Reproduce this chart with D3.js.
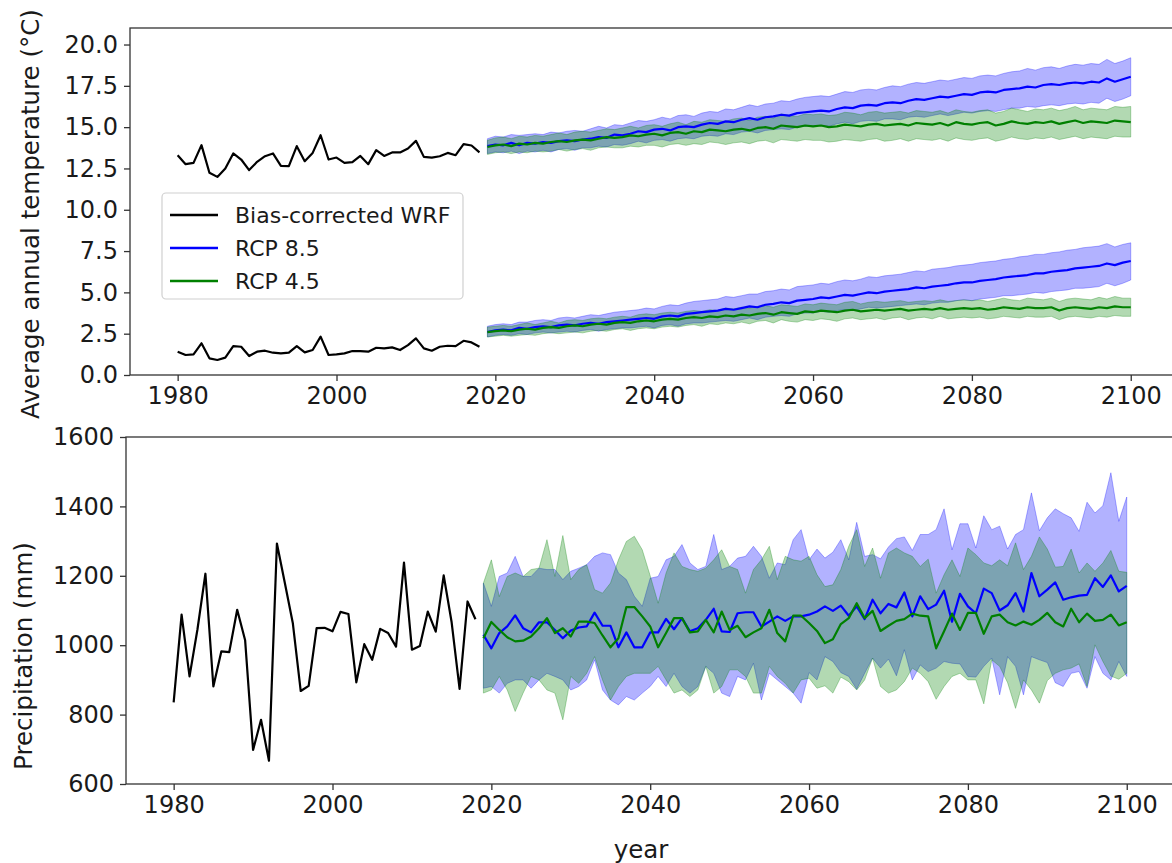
<!DOCTYPE html>
<html><head><meta charset="utf-8">
<script src="https://cdn.jsdelivr.net/npm/d3@7"></script>
<style>
body{margin:0;background:#fff;}
svg{display:block;font-family:"DejaVu Sans",sans-serif;}
</style></head>
<body><svg id="c" width="1172" height="863"></svg>
<script>
// ---------- DATA ----------
const histStart = 1980;   // 1980-2018
const projStart = 2019;   // 2019-2100
const xTicks = [1980, 2000, 2020, 2040, 2060, 2080, 2100];
const tempTicks = [0, 2.5, 5, 7.5, 10, 12.5, 15, 17.5, 20];
const precTicks = [600, 800, 1000, 1200, 1400, 1600];
const legendLabels = ["Bias-corrected WRF", "RCP 8.5", "RCP 4.5"];

// Temperature, site A (upper group)
const tempHistA = [13.30,12.76,12.84,13.91,12.24,11.99,12.50,13.41,13.04,12.40,12.90,13.24,13.41,12.66,12.64,13.85,12.94,13.44,14.51,13.04,13.16,12.84,12.88,13.26,12.76,13.61,13.26,13.47,13.47,13.71,14.17,13.20,13.16,13.24,13.44,13.30,13.97,13.89,13.47];
const tempHistB = [1.41,1.21,1.25,1.92,1.01,0.91,1.05,1.75,1.71,1.15,1.41,1.47,1.35,1.31,1.35,1.75,1.37,1.51,2.32,1.21,1.25,1.31,1.45,1.45,1.41,1.65,1.61,1.67,1.51,1.81,2.22,1.61,1.47,1.71,1.77,1.75,2.07,1.97,1.71];

const t85A_mean = [13.85,13.95,13.90,14.05,13.90,14.05,14.00,14.10,14.05,14.15, 14.20,14.15,14.25,14.30,14.40,14.35,14.55,14.50,14.60,14.75, 14.70,14.85,14.90,14.80,15.00,15.05,15.00,15.15,15.25,15.20, 15.35,15.30,15.45,15.55,15.45,15.60,15.65,15.75,15.70,15.85, 15.90,15.95,16.00,15.95,16.10,16.20,16.15,16.30,16.35,16.30, 16.45,16.50,16.45,16.60,16.70,16.65,16.75,16.85,16.80,16.90, 17.00,16.95,17.10,17.15,17.10,17.25,17.30,17.35,17.45,17.40, 17.55,17.60,17.55,17.65,17.70,17.65,17.75,17.70,17.95,17.75, 17.90,18.05];
const t85A_hi = [14.30,14.45,14.40,14.55,14.50,14.55,14.60,14.55,14.70,14.65, 14.75,14.80,14.75,14.90,15.05,14.95,15.15,15.10,15.25,15.40, 15.35,15.45,15.60,15.50,15.70,15.75,15.65,15.85,15.95,15.90, 16.10,16.05,16.20,16.35,16.25,16.40,16.45,16.60,16.55,16.70, 16.80,16.85,16.90,16.85,17.00,17.15,17.10,17.25,17.30,17.25, 17.40,17.50,17.45,17.60,17.70,17.65,17.75,17.85,17.80,17.90, 18.00,17.95,18.10,18.15,18.10,18.25,18.35,18.40,18.55,18.45, 18.60,18.65,18.55,18.70,18.80,18.75,18.85,18.80,19.10,18.85, 19.00,19.20];
const t85A_lo = [13.40,13.50,13.45,13.55,13.40,13.55,13.50,13.60,13.50,13.65, 13.70,13.60,13.75,13.75,13.85,13.80,13.95,13.90,14.00,14.15, 14.05,14.20,14.25,14.15,14.30,14.35,14.30,14.45,14.50,14.45, 14.60,14.55,14.70,14.75,14.65,14.80,14.85,14.90,14.85,15.00, 15.05,15.05,15.10,15.05,15.20,15.30,15.20,15.35,15.40,15.35, 15.50,15.50,15.45,15.60,15.65,15.60,15.70,15.80,15.70,15.80, 15.90,15.85,15.95,16.00,15.95,16.05,16.15,16.15,16.25,16.20, 16.30,16.35,16.30,16.40,16.45,16.40,16.50,16.45,16.75,16.55, 16.70,16.90];
const t45A_mean = [13.80,13.90,13.95,13.85,14.00,13.95,14.05,14.00,14.10,14.15, 14.10,14.20,14.25,14.20,14.30,14.40,14.35,14.40,14.50,14.45, 14.55,14.60,14.50,14.65,14.70,14.60,14.75,14.70,14.85,14.80, 14.75,14.85,14.90,14.80,14.95,15.00,14.90,15.10,15.05,15.00, 15.10,15.05,15.10,15.00,15.05,15.15,15.10,15.05,15.15,15.20, 15.10,15.15,15.20,15.10,15.25,15.20,15.15,15.25,15.10,15.30, 15.20,15.15,15.25,15.30,15.10,15.20,15.35,15.25,15.20,15.30, 15.25,15.35,15.20,15.30,15.40,15.25,15.35,15.30,15.25,15.40, 15.35,15.30];
const t45A_hi = [14.20,14.35,14.40,14.30,14.45,14.40,14.50,14.45,14.55,14.65, 14.55,14.70,14.75,14.70,14.80,14.90,14.85,14.95,15.05,14.95, 15.10,15.15,15.05,15.20,15.30,15.15,15.35,15.30,15.45,15.40, 15.35,15.50,15.55,15.40,15.60,15.65,15.55,15.80,15.70,15.65, 15.80,15.75,15.80,15.70,15.75,15.90,15.85,15.75,15.90,15.95, 15.85,15.90,15.95,15.85,16.00,15.95,15.90,16.00,15.85,16.05, 15.95,15.90,16.00,16.05,15.85,15.95,16.15,16.05,15.95,16.10, 16.05,16.15,16.00,16.10,16.25,16.05,16.15,16.10,16.05,16.25, 16.20,16.25];
const t45A_lo = [13.35,13.45,13.50,13.40,13.50,13.45,13.55,13.50,13.55,13.65, 13.55,13.65,13.70,13.60,13.75,13.80,13.75,13.75,13.85,13.80, 13.90,13.90,13.80,13.95,14.00,13.90,14.00,13.95,14.10,14.05, 13.95,14.05,14.10,14.00,14.15,14.20,14.05,14.25,14.20,14.15, 14.25,14.20,14.20,14.10,14.15,14.25,14.20,14.15,14.25,14.30, 14.15,14.20,14.30,14.15,14.30,14.25,14.20,14.30,14.15,14.35, 14.25,14.20,14.30,14.35,14.15,14.25,14.40,14.30,14.25,14.35, 14.30,14.40,14.25,14.35,14.45,14.30,14.40,14.35,14.30,14.45, 14.40,14.40];

const t85B_mean = [2.60,2.70,2.75,2.70,2.85,2.80,2.90,2.95,2.90,3.00, 3.05,3.00,3.10,3.15,3.10,3.20,3.25,3.30,3.35,3.40, 3.45,3.40,3.55,3.60,3.55,3.70,3.75,3.80,3.85,3.90, 4.00,3.95,4.05,4.15,4.10,4.25,4.30,4.40,4.35,4.50, 4.55,4.60,4.70,4.65,4.75,4.85,4.80,4.90,5.00,4.95, 5.05,5.10,5.15,5.20,5.30,5.25,5.35,5.40,5.45,5.55, 5.60,5.60,5.70,5.75,5.80,5.90,5.95,6.00,6.05,6.15, 6.15,6.25,6.30,6.35,6.45,6.50,6.55,6.60,6.75,6.65, 6.80,6.90];
const t85B_hi = [2.95,3.05,3.10,3.05,3.20,3.20,3.30,3.35,3.30,3.45, 3.50,3.45,3.55,3.65,3.60,3.70,3.80,3.85,3.90,3.95, 4.05,4.00,4.15,4.25,4.20,4.35,4.45,4.50,4.55,4.60, 4.75,4.70,4.80,4.90,4.90,5.05,5.10,5.20,5.15,5.35, 5.40,5.45,5.55,5.50,5.65,5.75,5.70,5.80,5.95,5.90, 6.00,6.05,6.10,6.20,6.30,6.25,6.40,6.45,6.50,6.60, 6.65,6.70,6.80,6.85,6.90,7.00,7.05,7.15,7.20,7.30, 7.30,7.40,7.45,7.55,7.60,7.70,7.75,7.80,7.95,7.75, 7.90,8.00];
const t85B_lo = [2.30,2.40,2.45,2.40,2.50,2.45,2.55,2.60,2.55,2.60, 2.65,2.60,2.70,2.75,2.65,2.75,2.80,2.85,2.85,2.90, 2.95,2.85,3.00,3.05,2.95,3.10,3.15,3.15,3.20,3.25, 3.30,3.25,3.35,3.45,3.35,3.50,3.55,3.60,3.55,3.70, 3.75,3.75,3.85,3.80,3.90,3.95,3.90,4.00,4.10,4.05, 4.10,4.15,4.20,4.25,4.30,4.25,4.35,4.40,4.40,4.50, 4.55,4.50,4.60,4.65,4.70,4.80,4.80,4.85,4.90,5.00, 4.95,5.05,5.10,5.15,5.25,5.25,5.30,5.35,5.55,5.40, 5.55,5.75];
const t45B_mean = [2.60,2.65,2.70,2.65,2.75,2.80,2.75,2.85,2.90,2.85, 2.95,3.00,2.95,3.05,3.10,3.05,3.15,3.20,3.15,3.25, 3.30,3.25,3.35,3.40,3.35,3.45,3.50,3.45,3.55,3.50, 3.60,3.55,3.65,3.60,3.70,3.75,3.65,3.80,3.75,3.70, 3.85,3.80,3.90,3.85,3.80,3.90,3.95,3.85,3.90,3.95, 3.90,3.95,4.00,3.90,3.95,4.00,3.95,4.05,3.95,4.00, 4.05,4.00,4.05,3.95,4.00,4.10,4.05,4.00,4.10,4.05, 4.05,4.10,3.90,4.05,4.10,4.05,4.00,4.10,4.05,4.15, 4.10,4.10];
const t45B_hi = [2.90,2.95,3.00,2.95,3.05,3.15,3.05,3.15,3.25,3.15, 3.30,3.35,3.30,3.40,3.45,3.40,3.50,3.55,3.50,3.65, 3.70,3.65,3.75,3.80,3.75,3.85,3.90,3.85,3.95,3.90, 4.05,4.00,4.10,4.05,4.15,4.20,4.10,4.25,4.20,4.15, 4.30,4.25,4.35,4.30,4.25,4.40,4.45,4.30,4.40,4.45, 4.40,4.45,4.50,4.40,4.45,4.50,4.45,4.55,4.45,4.50, 4.55,4.50,4.55,4.45,4.55,4.65,4.55,4.50,4.65,4.60, 4.55,4.65,4.45,4.60,4.65,4.60,4.55,4.70,4.60,4.75, 4.65,4.65];
const t45B_lo = [2.30,2.35,2.40,2.35,2.40,2.45,2.40,2.50,2.55,2.50, 2.55,2.60,2.55,2.65,2.70,2.65,2.75,2.80,2.70,2.80, 2.85,2.80,2.90,2.95,2.90,3.00,3.05,2.95,3.10,3.05, 3.15,3.10,3.20,3.10,3.25,3.30,3.15,3.35,3.25,3.20, 3.35,3.30,3.40,3.35,3.25,3.40,3.45,3.35,3.40,3.45, 3.35,3.45,3.50,3.35,3.45,3.50,3.40,3.55,3.40,3.45, 3.50,3.45,3.50,3.40,3.45,3.55,3.50,3.45,3.55,3.50, 3.50,3.55,3.35,3.50,3.55,3.50,3.45,3.55,3.50,3.60, 3.55,3.55];

// Precipitation
const precHist = [835,1088,910,1046,1206,881,982,980,1102,1014,698,785,667,1293,1179,1064,868,883,1049,1050,1040,1096,1090,893,1003,958,1047,1035,996,1238,987,998,1097,1039,1201,1066,874,1126,1075];
const p85_mean = [1030,991,1035,1054,1086,1049,1037,1066,1066,1044, 1020,1042,1051,1054,1094,1056,1056,994,1037,994, 994,1037,1037,1076,1046,1078,1040,1049,1073,1105, 1040,1038,1092,1095,1095,1054,1068,1083,1070,1083, 1083,1088,1097,1112,1099,1114,1085,1112,1075,1131, 1092,1119,1109,1152,1083,1141,1104,1117,1157,1068, 1148,1112,1092,1163,1150,1100,1115,1150,1097,1208, 1141,1160,1181,1131,1138,1143,1145,1193,1168,1201, 1155,1171];
const p85_hi = [1179,1112,1198,1208,1256,1198,1198,1222,1218,1218, 1189,1213,1222,1232,1256,1266,1261,1208,1189,1141, 1112,1193,1198,1246,1256,1290,1237,1218,1227,1319, 1218,1227,1251,1256,1285,1256,1193,1237,1232,1304, 1333,1246,1277,1251,1268,1304,1246,1354,1256,1261, 1249,1283,1307,1312,1273,1319,1319,1333,1393,1275, 1350,1350,1280,1373,1333,1343,1277,1319,1333,1439, 1330,1367,1393,1379,1367,1328,1412,1381,1402,1497, 1357,1427];
const p85_lo = [876,881,862,890,900,900,876,900,919,910, 900,871,881,900,958,871,842,828,852,842, 862,881,910,881,919,881,862,881,939,919, 862,852,910,900,948,842,919,900,881,862, 833,921,900,967,953,921,910,873,919,963, 934,960,912,987,900,943,924,934,953,948, 946,910,908,939,963,857,967,939,857,967, 958,950,892,881,919,924,876,967,919,900, 953,910];
const p45_mean = [1020,1067,1044,1023,1011,1013,1025,1049,1078,1035, 1049,1025,1068,1068,1064,1028,994,1020,1110,1110, 1083,1054,994,1035,1078,1078,1037,1040,1073,1037, 1097,1044,1056,1023,1037,1049,1102,1035,1011,1085, 1085,1064,1041,1006,1017,1061,1078,1121,1078,1099, 1041,1056,1070,1075,1091,1085,1083,991,1040,1091, 1044,1093,1093,1033,1083,1088,1066,1057,1068,1059, 1073,1093,1066,1054,1105,1066,1091,1070,1073,1088, 1057,1066];
const p45_hi = [1179,1246,1140,1198,1208,1198,1218,1222,1304,1198, 1316,1189,1218,1232,1160,1150,1179,1246,1299,1314, 1275,1200,1121,1208,1266,1227,1218,1213,1222,1246, 1275,1227,1218,1150,1218,1246,1285,1189,1256,1246, 1242,1256,1203,1169,1174,1218,1285,1333,1227,1280, 1193,1266,1280,1266,1256,1227,1248,1150,1203,1246, 1198,1280,1261,1237,1229,1246,1229,1295,1218,1256, 1312,1277,1225,1227,1277,1208,1237,1213,1237,1273, 1213,1210];
const p45_lo = [862,871,910,871,809,862,910,900,871,862, 785,910,890,919,967,900,842,881,910,919, 919,919,939,900,862,871,852,871,939,862, 881,929,929,910,862,862,939,910,890,862, 900,905,876,883,862,908,895,871,900,963, 881,862,871,895,934,919,895,844,881,910, 919,900,900,831,958,939,892,818,900,871, 833,898,919,929,934,946,881,1001,953,911, 902,919];

// ---------- DRAW ----------
const svg = d3.select("#c");
const FONT = 24;
const LABEL_FONT = 24.5;
const histYears = tempHistA.map((_, i) => histStart + i);
const projYears = t85A_mean.map((_, i) => projStart + i);
const BLUE = "#0000ff", GREEN = "#008000";

function panel(opt) {
  const x = d3.scaleLinear().domain([1974, 2106]).range([opt.left, opt.left + 1048.4]);
  const y = d3.scaleLinear().domain(opt.ydom).range([opt.bottom, opt.top]);
  const g = svg.append("g");

  opt.bands.forEach(b => {
    const area = d3.area().x((d, i) => x(projYears[i])).y0((d, i) => y(b.lo[i])).y1((d, i) => y(b.hi[i]));
    g.append("path").datum(b.hi).attr("d", area)
      .attr("fill", b.color).attr("fill-opacity", 0.3)
      .attr("stroke", b.color).attr("stroke-opacity", 0.3).attr("stroke-width", 1);
  });
  const line = (years) => d3.line().x((d, i) => x(years[i])).y(d => y(d));
  opt.hist.forEach(h => {
    g.append("path").datum(h).attr("d", line(histYears))
      .attr("fill", "none").attr("stroke", "#000").attr("stroke-width", 2.2).attr("stroke-linejoin", "round");
  });
  opt.lines.forEach(l => {
    g.append("path").datum(l.vals).attr("d", line(projYears))
      .attr("fill", "none").attr("stroke", l.color).attr("stroke-width", 2.2).attr("stroke-linejoin", "round");
  });

  g.append("rect").attr("x", opt.left).attr("y", opt.top)
    .attr("width", 1048.4).attr("height", opt.bottom - opt.top)
    .attr("fill", "none").attr("stroke", "#333").attr("stroke-width", 1.3);

  const xa = g.append("g").attr("transform", `translate(0,${opt.bottom})`)
    .call(d3.axisBottom(x).tickValues(xTicks).tickFormat(d3.format("d")).tickSize(6).tickPadding(6));
  const ya = g.append("g").attr("transform", `translate(${opt.left},0)`)
    .call(d3.axisLeft(y).tickValues(opt.yticks).tickFormat(opt.yfmt).tickSize(6).tickPadding(6));
  [xa, ya].forEach(a => {
    a.select(".domain").remove();
    a.selectAll(".tick line").attr("stroke", "#333").attr("stroke-width", 1.3);
    a.selectAll(".tick text").attr("fill", "#1a1a1a").style("font-size", FONT + "px")
      .style("font-family", "DejaVu Sans, sans-serif");
  });
  return {x, y, g};
}

const panelTemp = panel({
  left: 130, top: 28, bottom: 375, ydom: [0, 21], yticks: tempTicks, yfmt: d3.format(".1f"),
  bands: [
    {lo: t85A_lo, hi: t85A_hi, color: BLUE},
    {lo: t85B_lo, hi: t85B_hi, color: BLUE},
    {lo: t45A_lo, hi: t45A_hi, color: GREEN},
    {lo: t45B_lo, hi: t45B_hi, color: GREEN}
  ],
  hist: [tempHistA, tempHistB],
  lines: [
    {vals: t85A_mean, color: BLUE}, {vals: t85B_mean, color: BLUE},
    {vals: t45A_mean, color: GREEN}, {vals: t45B_mean, color: GREEN}
  ]
});

const panelPrec = panel({
  left: 126, top: 437, bottom: 784, ydom: [600, 1600], yticks: precTicks, yfmt: d3.format("d"),
  bands: [
    {lo: p85_lo, hi: p85_hi, color: BLUE},
    {lo: p45_lo, hi: p45_hi, color: GREEN}
  ],
  hist: [precHist],
  lines: [{vals: p85_mean, color: BLUE}, {vals: p45_mean, color: GREEN}]
});

svg.append("text").attr("transform", "translate(38.5,214) rotate(-90)")
  .attr("text-anchor", "middle").style("font-size", LABEL_FONT + "px").attr("fill", "#1a1a1a")
  .text("Average annual temperature (°C)");
svg.append("text").attr("transform", "translate(32,656) rotate(-90)")
  .attr("text-anchor", "middle").style("font-size", LABEL_FONT + "px").attr("fill", "#1a1a1a")
  .text("Precipitation (mm)");
svg.append("text").attr("x", 641).attr("y", 858)
  .attr("text-anchor", "middle").style("font-size", LABEL_FONT + "px").attr("fill", "#1a1a1a")
  .text("year");

const lg = svg.append("g");
lg.append("rect").attr("x", 162).attr("y", 193).attr("width", 301).attr("height", 106).attr("rx", 4)
  .attr("fill", "#fff").attr("fill-opacity", 0.8).attr("stroke", "#d0d0d0").attr("stroke-width", 1.2);
const legColors = ["#000", BLUE, GREEN];
legendLabels.forEach((lab, i) => {
  const yy = 215 + i * 33;
  lg.append("line").attr("x1", 170).attr("x2", 218).attr("y1", yy).attr("y2", yy)
    .attr("stroke", legColors[i]).attr("stroke-width", 2.6);
  lg.append("text").attr("x", 235).attr("y", yy + 8).style("font-size", "22px").attr("fill", "#1a1a1a").text(lab);
});
</script>
</body></html>
